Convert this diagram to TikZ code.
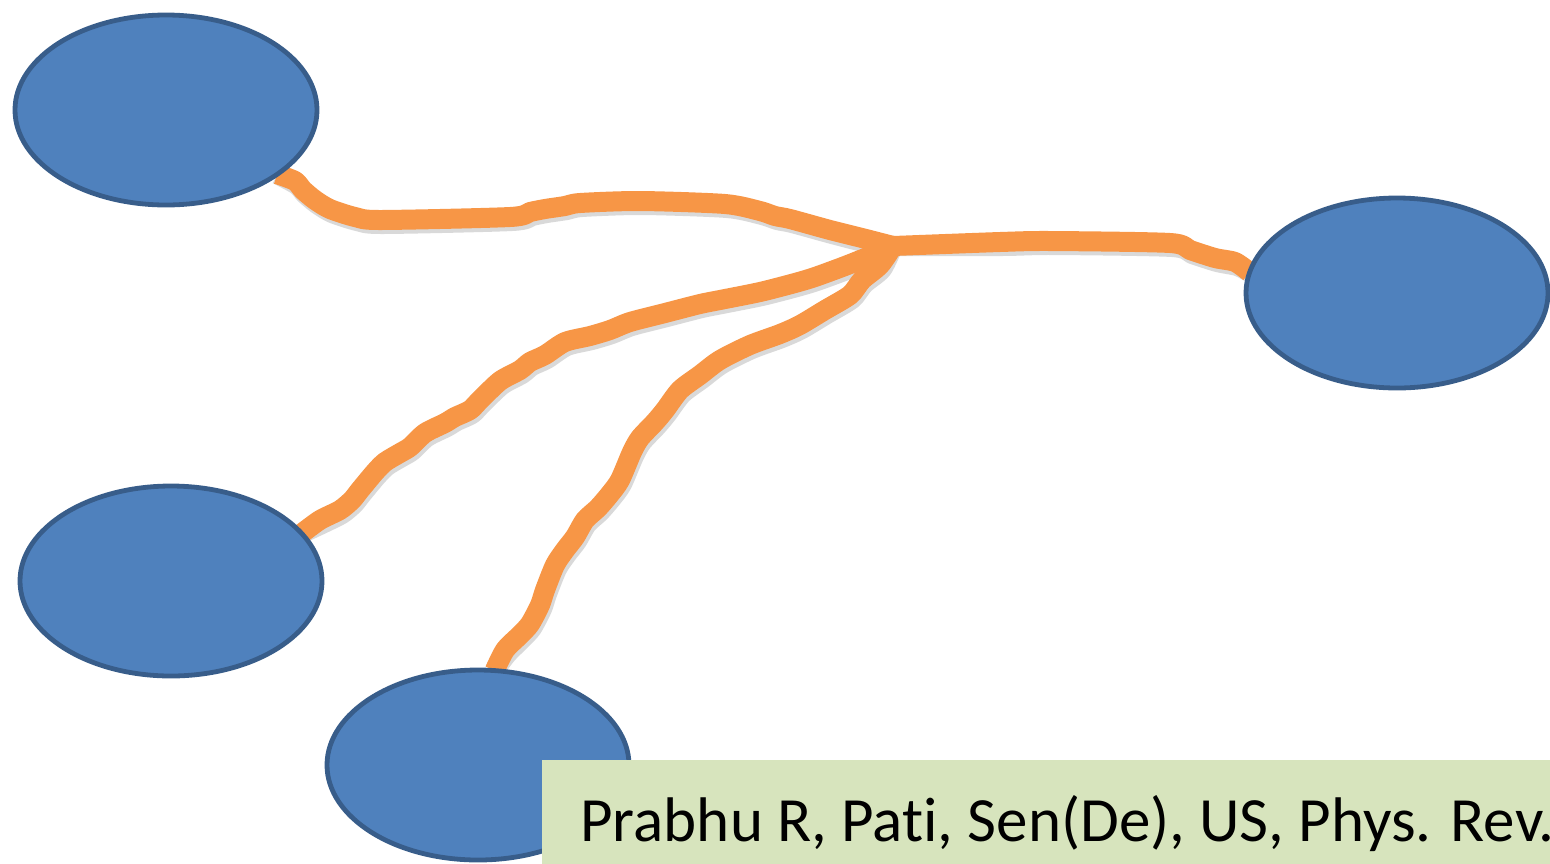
\documentclass[tikz,border=0pt]{standalone}
\usepackage{fontspec}
\setmainfont{Carlito}
\usetikzlibrary{shapes.geometric}
\definecolor{nodeblue}{HTML}{4F81BD}
\definecolor{nodeedge}{HTML}{385D8A}
\definecolor{wireorange}{HTML}{F79646}
\definecolor{notegreen}{HTML}{D7E4BD}
\pgfdeclarelayer{wires}
\pgfsetlayers{wires,main}
\tikzset{
  party/.style={ellipse, fill=nodeblue, draw=nodeedge, line width=2.4pt,
    minimum width=151pt, minimum height=95pt, inner sep=0pt, outer sep=0pt},
  orangewire/.style={draw=wireorange, line width=10pt, line cap=butt, line join=round},
  wireshade/.style={draw=black, draw opacity=0.15, line width=10pt, line cap=butt, line join=round},
}
\begin{document}
\begin{tikzpicture}[x=0.5pt, y=-0.5pt]
\useasboundingbox (0,0) rectangle (1550,863);
\clip (0,0) rectangle (1550,863);

% the four parties
\node[party] (A) at (166,110) {};
\node[party] (B) at (1397,293) {};
\node[party] (C) at (171,581) {};
\node[party] (D) at (478,765) {};

% meeting point of the wires
\coordinate (hub) at (893,246);

% wires sit behind the parties: shadows first, then the orange strokes
\begin{pgfonlayer}{wires}
\foreach \sty/\dx/\dy in {wireshade/2/4, orangewire/0/0}{
\begin{scope}[shift={(\dx,\dy)}]
\draw[\sty] plot[smooth, tension=0.45] coordinates {(A.-30) (295,181) (303,190) (315,200) (330,209) (355,217) (380,220) (510,217) (530,212) (545,209) (565,206) (580,203) (640,201) (725,204) (760,211) (775,216) (790,219) (830,230) (862,238) (hub)};
\draw[\sty] plot[smooth, tension=0.45] coordinates {(hub) (1000,242) (1050,241) (1170,243) (1190,250) (1215,258) (1235,262) (B.172)};
\draw[\sty] plot[smooth, tension=0.45] coordinates {(C.20) (320,520) (340,510) (352,500) (360,490) (375,472) (385,462) (400,453) (410,447) (425,433) (445,423) (455,417) (470,410) (480,400) (500,381) (520,370) (530,362) (545,355) (565,342) (590,336) (610,330) (630,322) (665,313) (700,304) (720,300) (760,292) (795,283) (815,277) (845,266) (870,256) (hub)};
\draw[\sty] plot[smooth, tension=0.45] coordinates {(D.80) (505,650) (520,635) (530,624) (540,605) (545,590) (555,565) (565,550) (575,537) (585,520) (598,508) (610,494) (620,480) (632,452) (640,438) (655,422) (665,410) (680,390) (700,375) (720,360) (750,345) (780,334) (800,325) (825,310) (850,295) (862,280) (880,265) (hub)};
\end{scope}}
\end{pgfonlayer}

% citation note
\fill[notegreen] (542,760) rectangle (1600,900);
\node[anchor=base west, inner sep=0pt, font=\fontsize{31.5pt}{36pt}\selectfont] (cite) at (580,841)
  {Prabhu R, Pat\kern0pt i, Sen(De), US, Phys. Rev.};
\end{tikzpicture}
\end{document}
